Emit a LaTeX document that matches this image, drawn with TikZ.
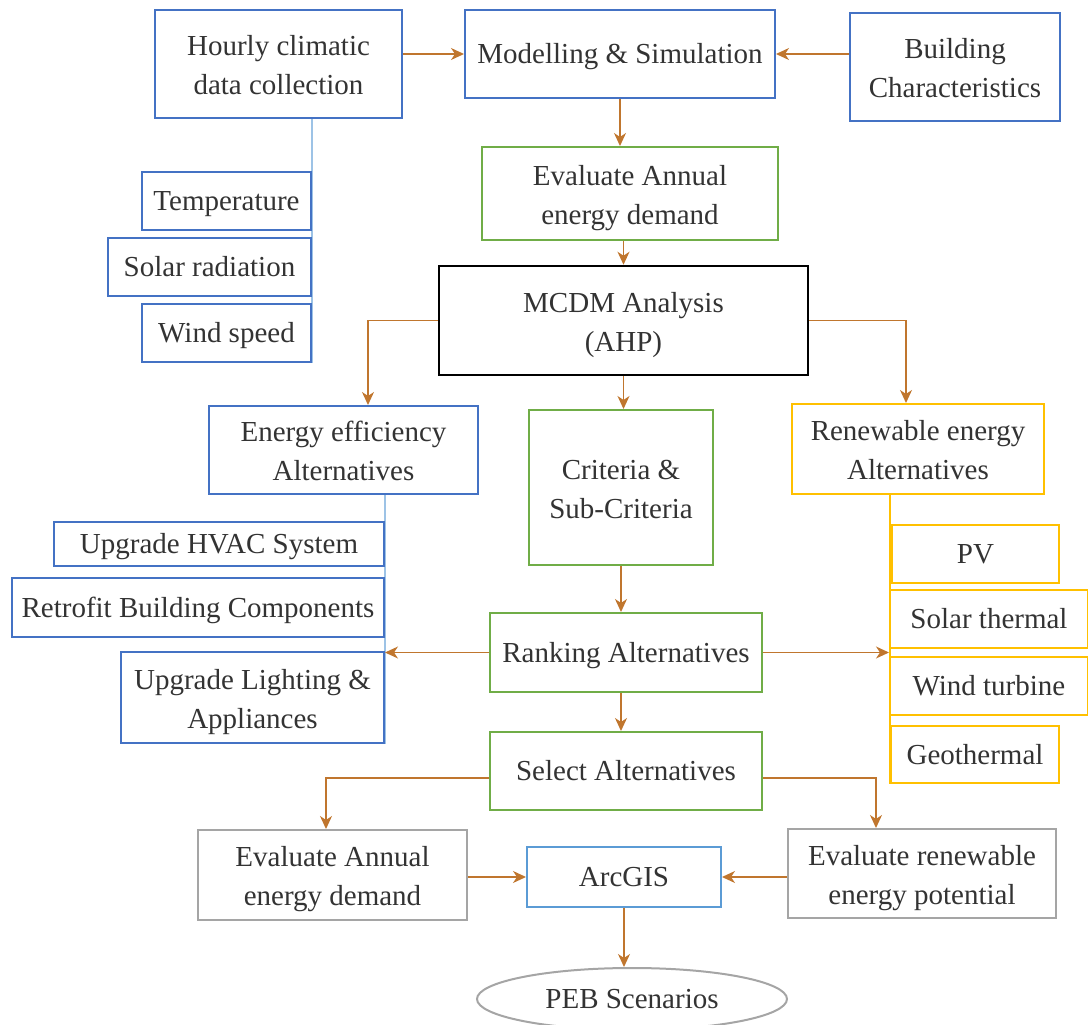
\documentclass[tikz,border=0pt]{standalone}
\usepackage{fontspec}
\setmainfont{Liberation Serif}
\usetikzlibrary{arrows.meta,shapes.geometric,backgrounds}
\definecolor{blueb}{HTML}{4472C4}
\definecolor{lightb}{HTML}{9DC3E6}
\definecolor{greenb}{HTML}{70AD47}
\definecolor{yellowb}{HTML}{FFC000}
\definecolor{grayb}{HTML}{A5A5A5}
\definecolor{arcb}{HTML}{5B9BD5}
\definecolor{arrowc}{HTML}{C0762E}
\begin{document}
\begin{tikzpicture}[x=1pt,y=-1pt,
    box/.style={draw, line width=2pt, fill=white, inner sep=0pt, align=center,
      text=black!80, font=\fontsize{29}{39}\selectfont,
      execute at begin node={\rule[-8pt]{0pt}{35pt}},
      execute at end node={\rule[-8pt]{0pt}{8pt}}},
    twoline/.style={execute at begin node={\rule[-8pt]{0pt}{77pt}}},
    arr/.style={draw=arrowc, line width=1.3pt, -{Stealth[length=13pt,width=12pt,inset=4pt]}}]
  \useasboundingbox (0,0) rectangle (1088,1025);
  \clip (0,0) rectangle (1088,1025);
  \node[box, twoline, draw=blueb, minimum width=247, minimum height=108] (hourly) at (278.5,64) {Hourly climatic\\data collection};
  \node[box, draw=blueb, minimum width=310, minimum height=88] (model) at (620,54) {Modelling \& Simulation};
  \node[box, twoline, draw=blueb, minimum width=210, minimum height=108] (build) at (955,67) {Building\\Characteristics};
  \node[box, draw=blueb, minimum width=169, minimum height=58] (temp) at (226.5,201) {Temperature};
  \node[box, draw=blueb, minimum width=203, minimum height=58] (solar) at (209.5,267) {Solar radiation};
  \node[box, draw=blueb, minimum width=169, minimum height=58] (wind) at (226.5,333) {Wind speed};
  \node[box, twoline, draw=greenb, minimum width=296, minimum height=93] (evaldem) at (630,193.5) {Evaluate Annual\\energy demand};
  \node[box, twoline, draw=black, line width=2.5pt, minimum width=369, minimum height=109] (mcdm) at (623.5,320.5) {MCDM Analysis\\(AHP)};
  \node[box, twoline, draw=blueb, minimum width=269, minimum height=88] (effic) at (343.5,450) {Energy efficiency\\Alternatives};
  \node[box, twoline, draw=greenb, minimum width=184, minimum height=155] (crit) at (621,487.5) {Criteria \&\\Sub-Criteria};
  \node[box, twoline, draw=yellowb, minimum width=252, minimum height=90] (renew) at (918,449) {Renewable energy\\Alternatives};
  \node[box, draw=blueb, minimum width=330, minimum height=44] (hvac) at (219,544) {Upgrade HVAC System};
  \node[box, draw=blueb, minimum width=372, minimum height=59] (retro) at (198,607.5) {Retrofit Building Components};
  \node[box, twoline, draw=blueb, minimum width=263, minimum height=91] (light) at (252.5,697.5) {Upgrade Lighting \&\\Appliances};
  \node[box, draw=yellowb, minimum width=167, minimum height=58] (pv) at (975.5,554) {PV};
  \node[box, draw=yellowb, minimum width=198, minimum height=58] (sthermal) at (989,619) {Solar thermal};
  \node[box, draw=yellowb, minimum width=198, minimum height=58] (wturb) at (989,686) {Wind turbine};
  \node[box, draw=yellowb, minimum width=168, minimum height=57] (geo) at (975,754.5) {Geothermal};
  \node[box, draw=greenb, minimum width=272, minimum height=79] (rank) at (626,652.5) {Ranking Alternatives};
  \node[box, draw=greenb, minimum width=272, minimum height=78] (select) at (626,771) {Select Alternatives};
  \node[box, twoline, draw=grayb, minimum width=269, minimum height=90] (evalann) at (332.5,875) {Evaluate Annual\\energy demand};
  \node[box, draw=arcb, minimum width=194, minimum height=60] (arcgis) at (624,877) {ArcGIS};
  \node[box, twoline, draw=grayb, minimum width=268, minimum height=89] (evalren) at (922,873.5) {Evaluate renewable\\energy potential};
  \node[box, ellipse, draw=grayb, minimum width=310, minimum height=62] (peb) at (632,999) {PEB Scenarios};
  \begin{scope}[on background layer]
    \draw[lightb, line width=1.2pt] (hourly.south -| wind.east) -- (wind.south east);
    \draw[lightb, line width=1.2pt] (effic.south -| light.east) -- (light.south east);
    \draw[yellowb, line width=2pt] (renew.south -| geo.west) -- (geo.south west);
  \end{scope}
  \draw[arr] (hourly.east |- model.west) -- (model.west);
  \draw[arr] (build.west |- model.east) -- (model.east);
  \draw[arr] (model.south) -- (model.south |- evaldem.north);
  \draw[arr] (mcdm.north |- evaldem.south) -- (mcdm.north);
  \draw[arr] (mcdm.south) -- (mcdm.south |- crit.north);
  \draw[arr] (mcdm.west) -| ([xshift=24.5pt]effic.north);
  \draw[arr] (mcdm.east) -| ([xshift=-12pt]renew.north);
  \draw[arr] (crit.south) -- (crit.south |- rank.north);
  \draw[arr] (crit.south |- rank.south) -- (crit.south |- select.north);
  \draw[arr] (rank.west) -- (rank.west -| light.east);
  \draw[arr] (rank.east) -- (rank.east -| wturb.west);
  \draw[arr] ([yshift=-7pt]select.west) -| ([xshift=-6.5pt]evalann.north);
  \draw[arr] ([yshift=-7pt]select.east) -| ([xshift=-46pt]evalren.north);
  \draw[arr] (evalann.east |- arcgis.west) -- (arcgis.west);
  \draw[arr] (evalren.west |- arcgis.east) -- (arcgis.east);
  \draw[arr] (arcgis.south) -- (arcgis.south |- peb.north);
\end{tikzpicture}
\end{document}
